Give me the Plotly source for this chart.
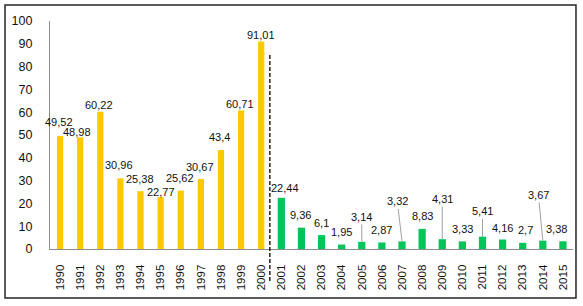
import plotly.graph_objects as go

years_a = [str(y) for y in range(1990, 2001)]
values_a = [49.52, 48.98, 60.22, 30.96, 25.38, 22.77, 25.62, 30.67, 43.4, 60.71, 91.01]
years_b = [str(y) for y in range(2001, 2016)]
values_b = [22.44, 9.36, 6.1, 1.95, 3.14, 2.87, 3.32, 8.83, 4.31, 3.33, 5.41, 4.16, 2.7, 3.67, 3.38]
labels_a = ["49,52", "48,98", "60,22", "30,96", "25,38", "22,77", "25,62", "30,67", "43,4", "60,71", "91,01"]
labels_b = ["22,44", "9,36", "6,1", "1,95", "3,14", "2,87", "3,32", "8,83", "4,31", "3,33", "5,41", "4,16", "2,7", "3,67", "3,38"]

# label offsets (pixels) and whether a leader line is shown -- styling only
off_a = [(-1, -14), (-3, -5), (-1, -7), (-1, -13), (-1, -12.5), (0, -5), (-1, -13), (-1, -12.5), (-1, -13), (-1, -6.5), (0, -7)]
off_b = [(4, -10), (-1, -12.7), (0, -12.3), (0, -12.6), (0, -25), (0, -12.2), (-4.7, -40), (0, -13), (0, -40),
         (0, -12.4), (0, -25.4), (0, -12), (3, -13), (-4.4, -45.6), (-6, -12)]
leader_b = [False, False, False, False, True, False, True, False, True, False, True, False, False, True, False]

YELLOW = "#FFC800"
GREEN = "#00C65A"
LABEL_FONT = dict(family="Liberation Sans, Arial, sans-serif", size=11, color="#111111")

all_years = years_a + years_b
pos = {y: i for i, y in enumerate(all_years)}

fig = go.Figure()
fig.add_trace(go.Bar(x=years_a, y=values_a, marker=dict(color=YELLOW, line=dict(width=0)), width=0.31,
                     hoverinfo="skip"))
fig.add_trace(go.Bar(x=years_b, y=values_b, marker=dict(color=GREEN, line=dict(width=0)), width=0.36,
                     hoverinfo="skip"))

annotations = []
for x, v, t, (ax, ay) in zip(years_a, values_a, labels_a, off_a):
    annotations.append(dict(x=pos[x], y=v, text=t, showarrow=True, ax=ax, ay=ay, arrowcolor="rgba(0,0,0,0)",
                            arrowhead=0, font=LABEL_FONT, xref="x", yref="y"))
for x, v, t, (ax, ay), ld in zip(years_b, values_b, labels_b, off_b, leader_b):
    annotations.append(dict(x=pos[x], y=v, text=t, showarrow=True, ax=ax, ay=ay,
                            arrowcolor="#A0A0A0" if ld else "rgba(0,0,0,0)", arrowwidth=1,
                            arrowhead=0, standoff=0, font=LABEL_FONT, xref="x", yref="y"))

shapes = [
    # outer frame
    dict(type="rect", xref="paper", yref="paper", x0=-0.0860, x1=1.0057, y0=-0.2149, y1=1.0702,
         line=dict(color="#262626", width=1.5), fillcolor="rgba(0,0,0,0)", layer="below"),
    # dashed separator between periods
    dict(type="line", xref="x", yref="paper", x0=10.43, x1=10.43, y0=-0.14, y1=0.855,
         line=dict(color="#000000", width=1.3, dash="4px,2px")),
]

fig.update_layout(
    width=583, height=306,
    margin=dict(l=50, r=10, t=21, b=57),
    paper_bgcolor="white", plot_bgcolor="white",
    showlegend=False,
    barmode="overlay",
    annotations=annotations,
    shapes=shapes,
    xaxis=dict(type="category", categoryorder="array", categoryarray=all_years,
               range=[-0.5, len(all_years) - 0.5],
               tickangle=-90, showline=True, linecolor="#8C8C8C", linewidth=1.2,
               ticks="outside", ticklen=10, tickcolor="rgba(0,0,0,0)",
               tickfont=dict(family="Liberation Sans Narrow, Arial Narrow, Liberation Sans, sans-serif",
                             size=11.5, color="#111111"),
               showgrid=False, zeroline=False),
    yaxis=dict(range=[0, 100], tickvals=list(range(0, 101, 10)), showline=True, linecolor="#8C8C8C",
               linewidth=1.2, ticks="outside", ticklen=14, tickcolor="rgba(0,0,0,0)",
               tickfont=dict(family="Liberation Sans, Arial, sans-serif", size=12.5, color="#111111"),
               showgrid=False, zeroline=False),
)

fig.write_html("out.html", config={"displayModeBar": False},
               post_script="document.body.style.margin='0';")
